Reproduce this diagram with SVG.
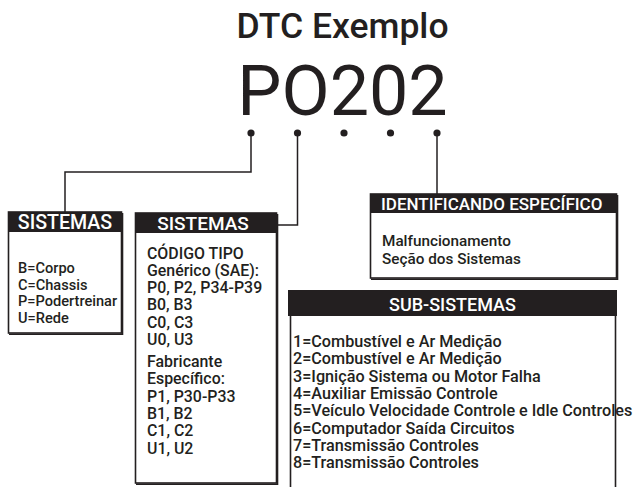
<svg xmlns="http://www.w3.org/2000/svg" width="635" height="487" viewBox="0 0 635 487">
<style>
  text { font-family: Roboto, "Liberation Sans", sans-serif; fill: #231f20; }
  .title { font-size: 35.5px; font-weight: 500; text-anchor: middle; }
  .code { font-size: 70px; font-weight: 400; text-anchor: middle; }
  .hdr { fill: #231f20; }
  .htxt { fill: #ffffff; font-weight: 500; }
  .body { font-size: 15.3px; font-weight: 500; }
  .b1 { font-size: 14.6px; }
  .b2 { font-size: 15.9px; }
  .sub { font-size: 16.2px; }
  .box { fill: #ffffff; stroke: #231f20; stroke-width: 1.6; }
  .shadow { fill: none; stroke: #231f20; stroke-width: 1.6; }
  .conn { fill: none; stroke: #231f20; stroke-width: 1.5; }
  .dot { fill: #231f20; }
</style>
<rect width="635" height="487" fill="#ffffff"/>
<g id="title">
  <text class="title" x="342.5" y="38">DTC Exemplo</text>
  <text class="code" x="342.5" y="115">PO202</text>
</g>
<g id="connectors">
  <circle class="dot" cx="251" cy="133" r="3.6"/>
  <circle class="dot" cx="297.5" cy="133" r="3.6"/>
  <circle class="dot" cx="344" cy="133" r="3.6"/>
  <circle class="dot" cx="390.5" cy="133" r="3.6"/>
  <circle class="dot" cx="437" cy="133" r="3.6"/>
  <polyline class="conn" points="251,133 251,172 65,172 65,212"/>
  <polyline class="conn" points="297.5,133 297.5,225 277,225"/>
  <polyline class="conn" points="437,133 437,194"/>
</g>
<g id="sistemas1">
  <rect class="box" x="8.5" y="212" width="113" height="121"/>
  <polyline class="shadow" points="122.5,213 122.5,334.2 9,334.2"/>
  <rect class="hdr" x="8" y="212" width="114" height="20"/>
  <text class="htxt" x="65" y="228.5" font-size="19.6" text-anchor="middle">SISTEMAS</text>
  <text class="body b1" x="18" y="273">B=Corpo</text>
  <text class="body b1" x="18" y="289.7">C=Chassis</text>
  <text class="body b1" x="18" y="306.4">P=Podertreinar</text>
  <text class="body b1" x="18" y="323">U=Rede</text>
</g>
<g id="sistemas2">
  <rect class="box" x="135.5" y="213" width="141" height="270"/>
  <polyline class="shadow" points="277.5,214 277.5,484.2 136,484.2"/>
  <rect class="hdr" x="135" y="213" width="142" height="20"/>
  <text class="htxt" x="203" y="229.5" font-size="19" text-anchor="middle">SISTEMAS</text>
  <text class="body b2" x="147" y="258.5">CÓDIGO TIPO</text>
  <text class="body b2" x="147" y="275.8">Genérico (SAE):</text>
  <text class="body b2" x="147" y="293.1">P0, P2, P34-P39</text>
  <text class="body b2" x="147" y="310.4">B0, B3</text>
  <text class="body b2" x="147" y="327.7">C0, C3</text>
  <text class="body b2" x="147" y="345">U0, U3</text>
  <text class="body b2" x="147" y="367">Fabricante</text>
  <text class="body b2" x="147" y="384.3">Específico:</text>
  <text class="body b2" x="147" y="401.6">P1, P30-P33</text>
  <text class="body b2" x="147" y="418.9">B1, B2</text>
  <text class="body b2" x="147" y="436.2">C1, C2</text>
  <text class="body b2" x="147" y="453.5">U1, U2</text>
</g>
<g id="identificando">
  <rect class="box" x="370.5" y="194" width="246" height="84"/>
  <polyline class="shadow" points="617.5,195 617.5,279.2 371,279.2"/>
  <rect class="hdr" x="370" y="194" width="247" height="19"/>
  <text class="htxt" x="381" y="209.5" font-size="17">IDENTIFICANDO ESPECÍFICO</text>
  <text class="body" x="382" y="245.5" font-size="15.6">Malfuncionamento</text>
  <text class="body" x="382" y="263.5" font-size="15.6">Seção dos Sistemas</text>
</g>
<g id="subsistemas">
  <polyline class="box" fill="none" points="290.5,300 290.5,488"/>
  <polyline class="shadow" points="615.5,300 615.5,488"/>
  <rect class="hdr" x="288" y="290" width="329" height="26"/>
  <text class="htxt" x="452.5" y="311" font-size="18" text-anchor="middle">SUB-SISTEMAS</text>
  <text class="body sub" x="293" y="347">1=Combustível e Ar Medição</text>
  <text class="body sub" x="293" y="364.3">2=Combustível e Ar Medição</text>
  <text class="body sub" x="293" y="381.6">3=Ignição Sistema ou Motor Falha</text>
  <text class="body sub" x="293" y="398.9">4=Auxiliar Emissão Controle</text>
  <text class="body sub" x="293" y="416.2">5=Veículo Velocidade Controle e Idle Controles</text>
  <text class="body sub" x="293" y="433.5">6=Computador Saída Circuitos</text>
  <text class="body sub" x="293" y="450.8">7=Transmissão Controles</text>
  <text class="body sub" x="293" y="468.1">8=Transmissão Controles</text>
</g>
</svg>
